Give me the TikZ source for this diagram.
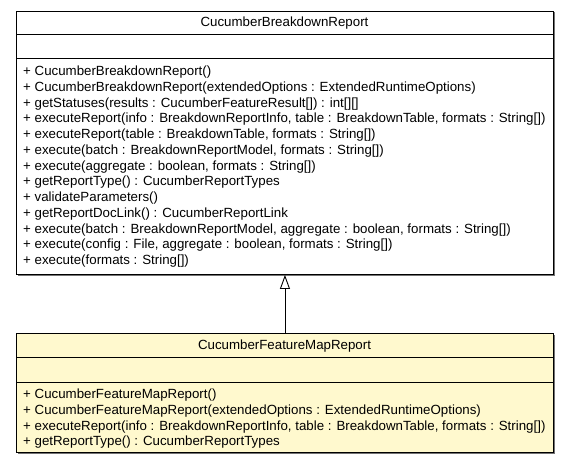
\documentclass[tikz,border=0pt]{standalone}
\usepackage{fontspec}
\setmainfont{Liberation Sans}
\usetikzlibrary{arrows.meta,positioning}
\definecolor{classyellow}{RGB}{255,249,206}
\tikzset{
  classbox/.style={draw,line width=0.9pt,minimum width=537pt,inner sep=0pt,anchor=north west},
  shadowbox/.style={fill=black!55,minimum width=537pt,inner sep=0pt,anchor=north west},
  classname/.style={anchor=base,inner sep=0pt,font=\fontsize{13.3}{16}\selectfont},
  member/.style={anchor=base west,inner sep=0pt,font=\fontsize{13.3}{16}\selectfont},
  extends/.style={-{Triangle[open,length=14pt,width=10pt]},line width=0.9pt}
}

\begin{document}
\begin{tikzpicture}[x=1pt,y=-1pt]
\useasboundingbox (0,0) rectangle (569,464);
% superclass
\node[shadowbox,minimum height=263.5pt] at (17.5,12) {};
\node[classbox,fill=white,minimum height=263.5pt] (breakdown) at (16,10.5) {};
\draw[line width=0.9pt] (16,34) -- (553,34);
\draw[line width=0.9pt] (16,58) -- (553,58);
\node[classname] (breakdownname) at (284.5,26.8) {CucumberBreakdownReport};
\foreach \txt [count=\i from 0] in {
  {+ CucumberBreakdownReport()},
  {+ CucumberBreakdownReport(extendedOptions : ExtendedRuntimeOptions)},
  {+ getStatuses(results : CucumberFeatureResult[]) : int[][]},
  {+ executeReport(info : BreakdownReportInfo, table : BreakdownTable, formats : String[])},
  {+ executeReport(table : BreakdownTable, formats : String[])},
  {+ execute(batch : BreakdownReportModel, formats : String[])},
  {+ execute(aggregate : boolean, formats : String[])},
  {+ getReportType() : CucumberReportTypes},
  {+ validateParameters()},
  {+ getReportDocLink() : CucumberReportLink},
  {+ execute(batch : BreakdownReportModel, aggregate : boolean, formats : String[])},
  {+ execute(config : File, aggregate : boolean, formats : String[])},
  {+ execute(formats : String[])}}
  \node[member] (bm\i) at (23,75.5+15.75*\i) {\txt};
% subclass
\node[shadowbox,minimum height=119pt] at (17.5,334.5) {};
\node[classbox,fill=classyellow,minimum height=119pt] (featuremap) at (16,333) {};
\draw[line width=0.9pt] (16,357) -- (553,357);
\draw[line width=0.9pt] (16,382) -- (553,382);
\node[classname] (featuremapname) at (284.5,349.5) {CucumberFeatureMapReport};
\foreach \txt [count=\i from 0] in {
  {+ CucumberFeatureMapReport()},
  {+ CucumberFeatureMapReport(extendedOptions : ExtendedRuntimeOptions)},
  {+ executeReport(info : BreakdownReportInfo, table : BreakdownTable, formats : String[])},
  {+ getReportType() : CucumberReportTypes}}
  \node[member] (fm\i) at (23,398.5+15.75*\i) {\txt};
% generalisation
\draw[extends] (featuremap.north) -- (breakdown.south);
\end{tikzpicture}
\end{document}
